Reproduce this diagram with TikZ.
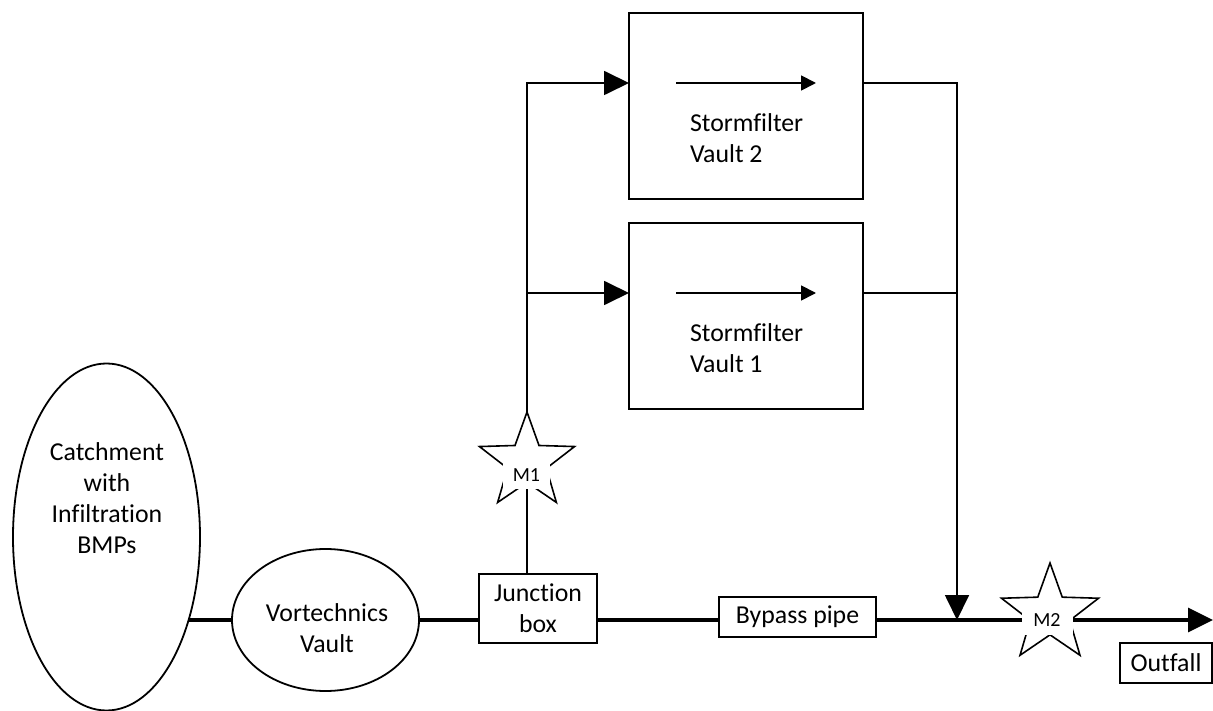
\documentclass[tikz,border=0pt]{standalone}
\usepackage{fontspec}
\setmainfont{Carlito}[Ligatures=NoCommon]
\usetikzlibrary{shapes.geometric,arrows.meta,backgrounds}
\begin{document}
\begin{tikzpicture}[x=1pt,y=-1pt,
  every node/.style={font=\fontsize{25.8}{31}\selectfont, inner sep=0pt, outer sep=0pt},
  boxn/.style={draw, line width=1.8pt, fill=white, rectangle, align=center},
  elln/.style={draw, line width=1.8pt, fill=white, ellipse},
  starn/.style={draw, line width=1.6pt, fill=white, star, star points=5, star point ratio=2.45, minimum size=#1},
  mlab/.style={fill=white, font=\fontsize{20}{24}\selectfont, minimum width=#1},
  pipe/.style={line width=3.3pt},
  flow/.style={line width=1.8pt},
  bigtip/.style={-{Triangle[length=25pt,width=24pt]}},
  smalltip/.style={-{Triangle[length=15pt,width=15pt]}}]
\useasboundingbox (0,0) rectangle (1213,711);

% shapes
\node[elln, minimum width=187pt, minimum height=347pt] (catch) at (106.5,537) {};
\node[align=center, anchor=base] (catchtxt) at (107,553) {Catchment\\with\\Infiltration\\BMPs};
\node[elln, minimum width=187pt, minimum height=142pt] (vort) at (325.5,620) {};
\node[align=center, anchor=base] (vorttxt) at (327,652) {Vortechnics\\Vault};
\node[boxn, minimum width=118pt, minimum height=69pt] (junc) at (538,608.5) {Junction\\box};
\node[boxn, minimum width=157pt, minimum height=40pt] (bypass) at (797.5,617) {Bypass pipe};
\node[boxn, minimum width=234pt, minimum height=186pt] (vault2) at (746,106) {};
\node[boxn, minimum width=234pt, minimum height=186pt] (vault1) at (746,316) {};
\node[align=left, anchor=base west] (v2txt) at (690,163) {Stormfilter\\Vault 2};
\node[align=left, anchor=base west] (v1txt) at (690,372) {Stormfilter\\Vault 1};
\node[boxn, minimum width=92pt, minimum height=40pt] (outfall) at (1166,663) {Outfall};
\node[starn=100pt] (m1) at (527,462) {};
\node[mlab=47pt, minimum height=27pt] (m1lab) at (526.5,475.5) {M1};
\node[starn=102pt] (m2) at (1050,614) {};
\node[mlab=51pt, minimum height=30pt] (m2lab) at (1047,620) {M2};

% coordinates
\coordinate (b2) at (527,83);
\coordinate (b1) at (527,293);
\coordinate (r2) at (957,83);
\coordinate (r1) at (957,293);
\coordinate (jn) at (957,620);
\coordinate (out) at (1213,620);
\coordinate (a2s) at (676,83);
\coordinate (a2e) at (816,83);
\coordinate (a1s) at (676,293);
\coordinate (a1e) at (816,293);

\begin{pgfonlayer}{background}
  \draw[pipe] (catch.center |- jn) -- (vort.center);
  \draw[pipe] (vort.center) -- (junc.center |- jn);
  \draw[pipe] (junc.center |- jn) -- (bypass.center |- jn);
  \draw[pipe] (bypass.center |- jn) -- (m2.center |- jn);
  \draw[pipe, bigtip] (m2.center |- jn) -- (out);
  \draw[flow] (junc.north -| b2) -- (b1);
\end{pgfonlayer}

% flow connectors
\draw[flow, bigtip] (b1) -- (b2) -- (b2 -| vault2.west);
\draw[flow, bigtip] (b1) -- (b1 -| vault1.west);
\draw[flow] (r2 -| vault2.east) -- (r2) -- (r1);
\draw[flow] (r1 -| vault1.east) -- (r1);
\draw[flow, bigtip] (r1) -- (jn);
\draw[flow, smalltip] (a2s) -- (a2e);
\draw[flow, smalltip] (a1s) -- (a1e);
\end{tikzpicture}
\end{document}
